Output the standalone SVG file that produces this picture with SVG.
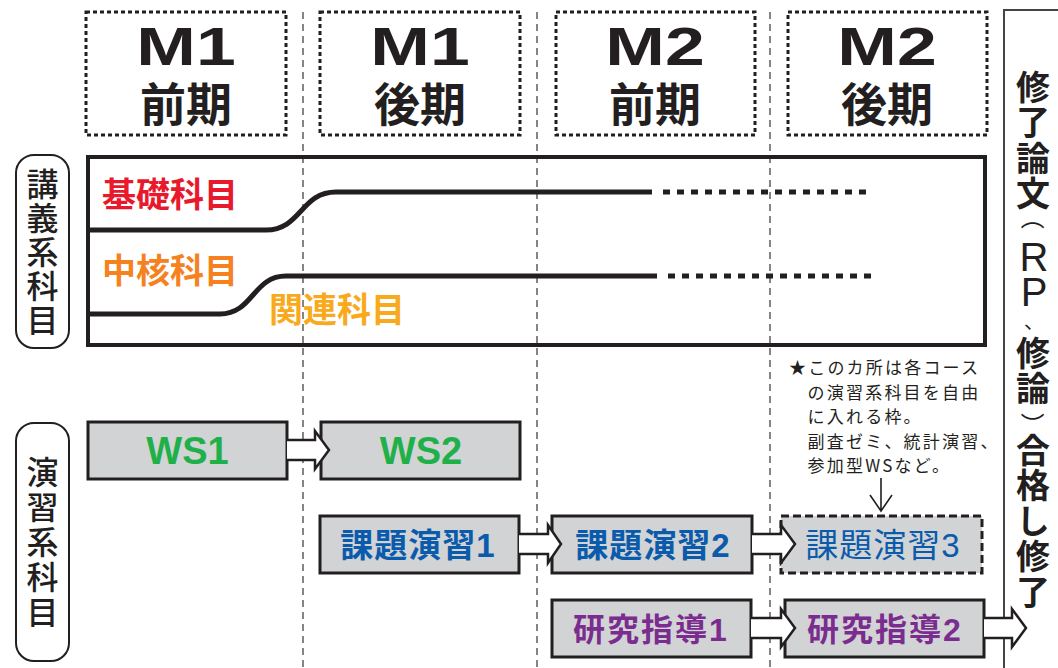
<svg xmlns="http://www.w3.org/2000/svg" width="1058" height="668" viewBox="0 0 1058 668">
<style>
.hdr{fill:none;stroke:#231f20;stroke-width:3;stroke-dasharray:4 3}
.vline{stroke:#444;stroke-width:1.3;stroke-dasharray:7 5;fill:none}
.box{fill:#d1d3d4;stroke:#231f20;stroke-width:3}
.dbox{fill:#d1d3d4;stroke:#231f20;stroke-width:3;stroke-dasharray:8 4}
.arr{fill:#fff;stroke:#231f20;stroke-width:2.5;stroke-linejoin:miter}
.lbl{fill:#fff;stroke:#231f20;stroke-width:2}
.b{font-family:"Liberation Sans","Noto Sans CJK JP",sans-serif;font-weight:700}
.r{font-family:"Liberation Sans","Noto Sans CJK JP",sans-serif;font-weight:400}
.hm{font-size:53px;fill:#231f20}
.hk{font-size:46px;fill:#231f20}
.vt{writing-mode:vertical-rl;text-orientation:upright}
.crv{fill:none;stroke:#231f20;stroke-width:5}
.dot{fill:none;stroke:#231f20;stroke-width:5;stroke-dasharray:7 7}
.rc{font-family:"Noto Sans CJK JP",sans-serif;font-weight:700;font-size:34px;fill:#231f20;letter-spacing:1.4px}
.rl{font-family:"Liberation Sans",sans-serif;font-weight:400;font-size:40px;fill:#231f20;letter-spacing:-9.3px}
.rp{font-family:"Noto Sans CJK JP",sans-serif;font-weight:400;font-size:24px;fill:#231f20}
</style>

<g id="gridlines">
<line class="vline" x1="303" y1="12" x2="303" y2="668"/>
<line class="vline" x1="537" y1="12" x2="537" y2="668"/>
<line class="vline" x1="770" y1="12" x2="770" y2="668"/>
</g>

<g id="hdr-m1a">
<rect class="hdr" x="86" y="12" width="200" height="123"/>
<text class="b hm" text-anchor="middle" transform="translate(186 65) scale(1.35 1)">M1</text>
<text class="b hk" x="186" y="121" text-anchor="middle">前期</text>
</g>
<g id="hdr-m1b">
<rect class="hdr" x="320" y="12" width="200" height="123"/>
<text class="b hm" text-anchor="middle" transform="translate(420 65) scale(1.35 1)">M1</text>
<text class="b hk" x="420" y="121" text-anchor="middle">後期</text>
</g>
<g id="hdr-m2a">
<rect class="hdr" x="556" y="12" width="199" height="123"/>
<text class="b hm" text-anchor="middle" transform="translate(655 65) scale(1.35 1)">M2</text>
<text class="b hk" x="655" y="121" text-anchor="middle">前期</text>
</g>
<g id="hdr-m2b">
<rect class="hdr" x="788" y="12" width="199" height="123"/>
<text class="b hm" text-anchor="middle" transform="translate(887 65) scale(1.35 1)">M2</text>
<text class="b hk" x="887" y="121" text-anchor="middle">後期</text>
</g>

<g id="completion">
<path d="M1058 10 H1004 V668" fill="none" stroke="#444" stroke-width="2"/>
<text class="rc vt" x="1033" y="70">修了論文</text>
<text class="rp" text-anchor="middle" dominant-baseline="central" x="-5.6" y="0" transform="translate(1034 223) rotate(90)">（</text>
<text class="rl vt" x="1034" y="235">RP</text>
<text x="1034" y="320" text-anchor="middle" dominant-baseline="central" font-family="Noto Sans CJK JP, sans-serif" font-size="20" fill="#231f20">、</text>
<text class="rc vt" x="1033" y="335.6">修論</text>
<text class="rp" text-anchor="middle" dominant-baseline="central" x="5.6" y="0" transform="translate(1034 419) rotate(90)">）</text>
<text class="rc vt" x="1033" y="433">合格し修了</text>
</g>

<g id="label-lecture">
<rect class="lbl" x="16" y="155" width="53" height="193" rx="18"/>
<text class="vt" x="42.5" y="168" font-family="Noto Sans CJK JP, sans-serif" font-weight="500" font-size="32" letter-spacing="2" fill="#231f20">講義系科目</text>
</g>
<g id="label-exercise">
<rect class="lbl" x="16" y="423" width="53" height="238" rx="18"/>
<text class="vt" x="42.5" y="456" font-family="Noto Sans CJK JP, sans-serif" font-weight="500" font-size="32" letter-spacing="3" fill="#231f20">演習系科目</text>
</g>

<g id="lecture-box">
<rect x="88" y="157" width="897" height="188" fill="none" stroke="#231f20" stroke-width="4"/>
<path class="crv" d="M88 230 H266 C301 230 301 192 336 192 H652"/>
<path class="dot" d="M663 192 H872"/>
<path class="crv" d="M88 314 H220 C253 314 253 276 286 276 H657"/>
<path class="dot" d="M668 276 H872"/>
<text class="b" x="102" y="207" font-size="34" fill="#e8192c">基礎科目</text>
<text class="b" x="102" y="283" font-size="34" fill="#f5821f">中核科目</text>
<text class="b" x="269" y="322" font-size="34" fill="#f8a91c">関連科目</text>
</g>

<g id="ws1">
<rect class="box" x="88" y="422" width="199" height="57"/>
<text class="b" x="187.5" y="464" text-anchor="middle" font-size="38" fill="#1fb04a">WS1</text>
</g>
<g id="ws2">
<rect class="box" x="321" y="422" width="199" height="57"/>
<text class="b" x="421" y="464" text-anchor="middle" font-size="38" fill="#1fb04a">WS2</text>
</g>
<g id="kadai1">
<rect class="box" x="320" y="516" width="199" height="57"/>
<text class="b" x="418" y="557" text-anchor="middle" font-size="33" letter-spacing="1" fill="#0a5bab">課題演習1</text>
</g>
<g id="kadai2">
<rect class="box" x="552" y="516" width="200" height="57"/>
<text class="b" x="653" y="557" text-anchor="middle" font-size="33" letter-spacing="1" fill="#0a5bab">課題演習2</text>
</g>
<g id="kadai3">
<rect class="dbox" x="781" y="516" width="201" height="57"/>
<text class="r" x="883" y="557" text-anchor="middle" font-size="33" letter-spacing="1" fill="#0a5bab">課題演習3</text>
</g>
<g id="kenkyu1">
<rect class="box" x="552" y="600" width="199" height="57"/>
<text class="b" x="651" y="641" text-anchor="middle" font-size="32" letter-spacing="2" fill="#7b2c8f">研究指導1</text>
</g>
<g id="kenkyu2">
<rect class="box" x="785" y="600" width="199" height="57"/>
<text class="b" x="885" y="641" text-anchor="middle" font-size="32" letter-spacing="2" fill="#7b2c8f">研究指導2</text>
</g>

<g id="note">
<text font-family="Noto Sans CJK JP, sans-serif" font-size="17" letter-spacing="2.2" fill="#231f20">
<tspan x="789" y="374">★このカ所は各コース</tspan>
<tspan x="807.6" y="398.5">の演習系科目を自由</tspan>
<tspan x="807.6" y="423">に入れる枠。</tspan>
<tspan x="807.6" y="447.5">副査ゼミ、統計演習、</tspan>
<tspan x="807.6" y="472">参加型WSなど。</tspan>
</text>
</g>

<g id="connectors">
<path class="arr" d="M287 440 H315 V431 L329 450 L315 469 V460 H287"/>
<path class="arr" d="M519 534 H548 V525 L561 544 L548 563 V554 H519"/>
<path class="arr" d="M752 534 H781 V525 L795 544 L781 563 V554 H752"/>
<path class="arr" d="M751 618 H781 V609 L795 628 L781 647 V638 H751"/>
<path class="arr" d="M984 618 H1012 V609 L1026 628 L1012 647 V638 H984"/>
<path d="M881 478 V511 M870 495 L881 511 L892 495" fill="none" stroke="#231f20" stroke-width="1.6"/>
</g>
</svg>
